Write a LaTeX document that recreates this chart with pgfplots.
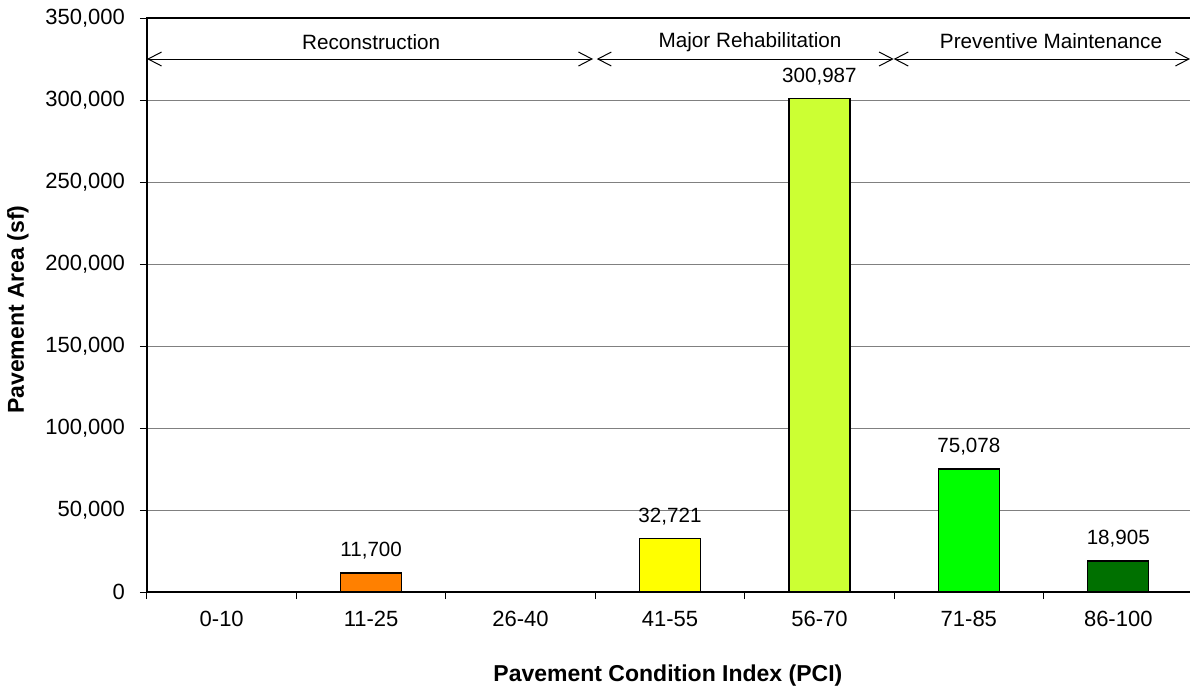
\documentclass[border=0pt]{standalone}
\usepackage{pgfplots}
\pgfplotsset{compat=1.18}
\usepackage{fontspec}
\setmainfont{Liberation Sans}
\usetikzlibrary{arrows.meta}

\definecolor{cOrange}{RGB}{255,128,0}
\definecolor{cYellow}{RGB}{255,255,0}
\definecolor{cLime}{RGB}{204,255,51}
\definecolor{cGreen}{RGB}{0,255,0}
\definecolor{cDark}{RGB}{0,112,0}
\definecolor{gridgray}{RGB}{128,128,128}

\begin{document}
\begin{tikzpicture}[font=\fontsize{10.35}{12}\selectfont]
\begin{axis}[
  at={(0,0)}, anchor=south west,
  scale only axis, width=523pt, height=287pt,
  xmin=-0.5, xmax=6.5, ymin=0, ymax=350000,
  ybar, bar width=30.5pt, bar shift=0pt,
  xtick={-0.5,0.5,1.5,2.5,3.5,4.5,5.5,6.5}, xticklabels={},
  extra x ticks={0,1,2,3,4,5,6},
  extra x tick labels={0-10,11-25,26-40,41-55,56-70,71-85,86-100},
  extra x tick style={major tick length=0pt, grid=none,
    xticklabel style={yshift=-6pt}},
  ytick={0,50000,...,350000},
  scaled y ticks=false,
  ymajorgrids, major grid style={gridgray, line width=0.5pt},
  tick align=outside, major tick length=3.5pt,
  xtick pos=bottom, ytick pos=left,
  axis line style={line width=0.9pt},
  tick style={black, line width=0.5pt},
  tick label style={font=\fontsize{11}{13}\selectfont},
  yticklabel style={xshift=-4pt},
  xlabel={\bfseries Pavement Condition Index (PCI)},
  ylabel={\bfseries Pavement Area (sf)},
  xlabel style={at={(axis description cs:0.498,-0.145)}, anchor=center, font=\fontsize{11.5}{13}\selectfont},
  ylabel style={at={(axis description cs:-0.1233,0.492)}, anchor=center, font=\fontsize{11.5}{13}\selectfont},
  nodes near coords,
  nodes near coords style={yshift=3pt, black, font=\fontsize{10.3}{12}\selectfont},
  /pgf/number format/fixed,
  /pgf/number format/1000 sep={,},
  /pgf/number format/assume math mode=true,
]
\addplot[fill=cOrange, draw=black, line width=0.7pt] coordinates {(1,11700)};
\addplot[fill=cYellow, draw=black, line width=0.7pt] coordinates {(3,32721)};
\addplot[fill=cLime, draw=black, line width=0.7pt] coordinates {(4,300987)};
\addplot[fill=cGreen, draw=black, line width=0.7pt] coordinates {(5,75078)};
\addplot[fill=cDark, draw=black, line width=0.7pt] coordinates {(6,18905)};

\draw[{Straight Barb[length=6.75pt,width=7pt]}-{Straight Barb[length=6.75pt,width=7pt]}, line width=0.5pt]
  (axis cs:-0.5,325000) -- (axis cs:2.485,325000);
\draw[{Straight Barb[length=6.75pt,width=7pt]}-{Straight Barb[length=6.75pt,width=7pt]}, line width=0.5pt]
  (axis cs:2.51,325000) -- (axis cs:4.497,325000);
\draw[{Straight Barb[length=6.75pt,width=7pt]}-{Straight Barb[length=6.75pt,width=7pt]}, line width=0.5pt]
  (axis cs:4.497,325000) -- (axis cs:6.48,325000);
\node at (axis cs:1,335400) {Reconstruction};
\node at (axis cs:3.536,335400) {Major Rehabilitation};
\node at (axis cs:5.55,336000) {Preventive Maintenance};
\end{axis}
\pgfresetboundingbox
\useasboundingbox (-73.5pt,-47.5pt) rectangle (521.5pt,296pt);
\end{tikzpicture}
\end{document}
